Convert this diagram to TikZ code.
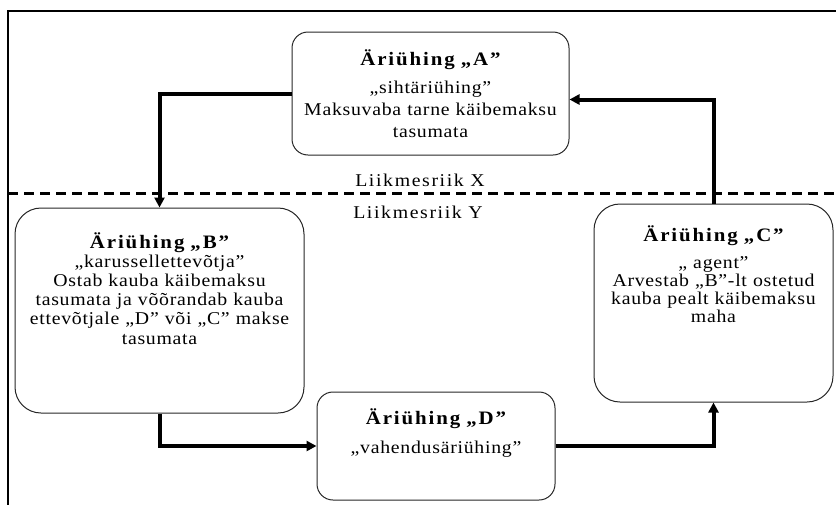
\documentclass[tikz,border=0pt]{standalone}
\usepackage{fontspec}
\setmainfont{Liberation Serif}
\usetikzlibrary{arrows.meta}

\newcommand{\firmname}[1]{{\fontsize{19}{22}\selectfont\bfseries\addfontfeatures{LetterSpace=10}#1}}
\newcommand{\bodyfont}[1]{\fontsize{18}{#1}\selectfont\addfontfeatures{FakeStretch=1.1,LetterSpace=4}}

\tikzset{
  firm/.style={draw=black!85, line width=1pt, inner sep=0pt},
  flow/.style={line width=4pt, -{Triangle[length=10pt,width=10pt]}},
  body/.style={draw=none, align=center, inner sep=0pt, anchor=north, text width=280pt},
  state/.style={draw=none, inner sep=0pt, font=\fontsize{18}{22}\selectfont\addfontfeatures{FakeStretch=1.1,LetterSpace=9}},
}

\begin{document}
\begin{tikzpicture}[x=1pt,y=-1pt]

\clip (0,0) rectangle (836,504); % page size
\draw[line width=2pt] (8,11) rectangle (860,530); % outer frame

% boxes
\node [firm, rounded corners=16pt, minimum width=277pt, minimum height=123pt] (A) at (430.5,93.5) {};
\node [firm, rounded corners=26pt, minimum width=289pt, minimum height=205pt] (B) at (159.5,310.5) {};
\node [firm, rounded corners=26pt, minimum width=239pt, minimum height=198pt] (C) at (713.5,303) {};
\node [firm, rounded corners=16pt, minimum width=238pt, minimum height=108pt] (D) at (436,446) {};

% texts
\node [body, font=\bodyfont{22}] (Atext) at (430.5,49) {\firmname{Äriühing „A”}\\[6pt]„sihtäriühing”\\Maksuvaba tarne käibemaksu\\tasumata};
\node [body, font=\bodyfont{19.2}] (Btext) at (159.5,232) {\firmname{Äriühing „B”}\\„karussellettevõtja”\\Ostab kauba käibemaksu\\tasumata ja võõrandab kauba\\ettevõtjale „D” või „C” makse\\tasumata};
\node [body, font=\bodyfont{18}] (Ctext) at (713.5,225) {\firmname{Äriühing „C”}\\[9pt]„ agent”\\Arvestab „B”-lt ostetud\\kauba pealt käibemaksu\\maha};
\node [body, font=\bodyfont{22}] (Dtext) at (436,408) {\firmname{Äriühing „D”}\\[7pt]„vahendusäriühing”};

% member states
\draw[line width=3pt, dash pattern=on 10pt off 6pt] (8,193) -- (836,193); % border line
\node [state] (X) at (420,180) {Liikmesriik X};
\node [state] (Y) at (418,212) {Liikmesriik Y};

% flows
\draw[flow] (A.west) -| (B.north);
\draw[flow] (B.south) |- (D.west);
\draw[flow] (D.east) -| (C.south);
\draw[flow] (C.north) |- ([yshift=-6pt]A.east);

\end{tikzpicture}
\end{document}
